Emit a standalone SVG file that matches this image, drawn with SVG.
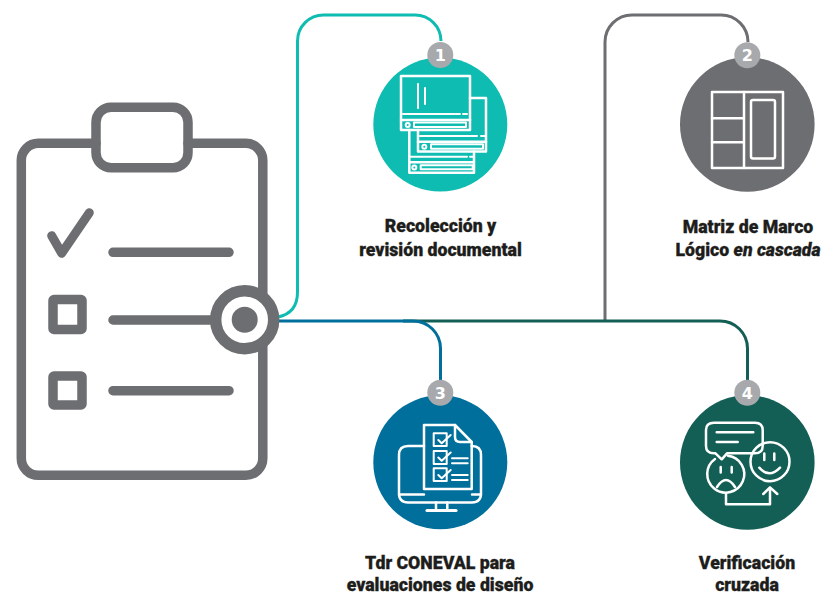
<svg xmlns="http://www.w3.org/2000/svg" width="824" height="595" viewBox="0 0 824 595">
<style>
.g{fill:none;stroke:#6d6e71;stroke-width:9.5;stroke-linecap:round;stroke-linejoin:round}
.w{fill:none;stroke:#fff;stroke-width:2.5;stroke-linecap:round;stroke-linejoin:round}
.f{stroke-width:2}
.c{fill:none;stroke-width:3}
.b{fill:#a7a9ac}
.n{font:700 16px "DejaVu Sans","Liberation Sans",sans-serif;fill:#fff;text-anchor:middle}
.t{font:900 17.700px "Roboto","Liberation Sans",sans-serif;fill:#1d1d1b;stroke:#1d1d1b;stroke-width:.3;text-anchor:middle}
</style>
<rect width="824" height="595" fill="#fff"/>
<g id="connectors">
<path class="c" stroke="#6d6e71" d="M605 320V42A27 27 0 0 1 632 15H721A27 27 0 0 1 748 42"/>
<path class="c" stroke="#0fbcb2" d="M278 317Q297.500 313 297.500 292V41A26 26 0 0 1 323.500 15H415A26 26 0 0 1 441 41"/>
<path class="c" stroke="#135e55" d="M403 321H720A27.500 27.500 0 0 1 747.500 348.500V385"/>
<path class="c" stroke="#006f9b" d="M278 321H413A27.500 27.500 0 0 1 440.500 348.500V385"/>
</g>
<g id="clipboard">
<path class="g" d="M96 143.300H38.300A17 17 0 0 0 21.300 160.300V458.300A17 17 0 0 0 38.300 475.300H245.800A17 17 0 0 0 262.800 458.300V160.300A17 17 0 0 0 245.800 143.300H188"/>
<rect class="g" x="96" y="107.300" width="92" height="60.400" rx="15"/>
<path class="g" style="stroke-width:9" d="M51.700 235.700L61.700 253.300L89.300 212.700"/>
<path class="g" d="M113 252.300H229M113 320H215M113 390.700H229"/>
<rect class="g" x="53" y="299.500" width="29" height="30" rx="1"/>
<rect class="g" x="53" y="376" width="29" height="29" rx="1"/>
<circle cx="244.700" cy="319.700" r="29" fill="#fff" stroke="#6d6e71" stroke-width="11.400"/>
<circle cx="244.700" cy="319.700" r="13" fill="#6d6e71"/>
</g>
<g id="node1">
<circle cx="440.300" cy="124.500" r="67" fill="#0fbcb2"/>
<circle class="b" cx="440.300" cy="55" r="13"/>
<text class="n" x="440.300" y="61">1</text>
<g class="w">
<rect x="401" y="76" width="69" height="54"/>
<path d="M401 120H470"/>
<path class="f" d="M403 114H460M463 114H467M418 84V108M425 88V104"/>
<circle class="f" cx="407.700" cy="125" r="2"/>
<rect class="f" x="414" y="122.500" width="52" height="4.500"/>
<path d="M470 98H486V151.500H418V130"/>
<path d="M418 141.700H486"/>
<path class="f" d="M420 136H477M481 136H485"/>
<circle class="f" cx="424.300" cy="146.700" r="2"/>
<rect class="f" x="431" y="144.300" width="52" height="4.500"/>
<path d="M409.300 130V172.700H474V151.500M409.300 162.300H474"/>
<path class="f" d="M409.300 156.700H467M470 156.700H474"/>
<circle class="f" cx="414.300" cy="167.500" r="2"/>
<rect class="f" x="420.700" y="165.300" width="52" height="4"/>
</g>
</g>
<g id="node2">
<circle cx="747.300" cy="124.500" r="67.300" fill="#6d6e71"/>
<circle class="b" cx="747.300" cy="55.300" r="13"/>
<text class="n" x="747.300" y="61">2</text>
<g class="w">
<rect x="712" y="92" width="71" height="76"/>
<path d="M712 118.300H744M712 142.300H744M744 92V168"/>
<rect x="751" y="100" width="24" height="58.500" rx="2"/>
</g>
</g>
<g id="node3">
<circle cx="440.300" cy="462.300" r="67" fill="#006f9b"/>
<circle class="b" cx="440.300" cy="392.700" r="13"/>
<text class="n" x="440.300" y="398.500">3</text>
<g class="w">
<path d="M424 446H408Q399 446 399 455V493Q399 502.500 408 502.500H472Q481 502.500 481 493V455Q481 446 472 446H471.700"/>
<path d="M399 494.500H424M472 494.500H481M436 502.500V510M447.300 502.500V510"/>
<path style="stroke-width:3.200" d="M427 510.500H456"/>
<path d="M424 425H455L471.700 442V489H424Z"/>
<path d="M455 425V437Q455 442 460 442H471.700"/>
<g class="f">
<rect x="433.700" y="433.300" width="13" height="12.700"/>
<rect x="433.700" y="451" width="13" height="13"/>
<rect x="433.700" y="468.300" width="13" height="12.700"/>
<path d="M438.300 440L441.700 443.300L450.700 435M438.300 457.500L441.700 460.800L450.700 452.500M438.300 475L441.700 478.300L450.700 470M452 458.300H467.700M452 463.300H467.700M452 475H467.700M452 480H467.700"/>
</g>
</g>
</g>
<g id="node4">
<circle cx="747.300" cy="462.500" r="67.300" fill="#135e55"/>
<circle class="b" cx="747.300" cy="392.700" r="13"/>
<text class="n" x="747.300" y="398.500">4</text>
<g class="w">
<path d="M714 422.700H755Q762.700 422.700 762.700 430V446Q762.700 453.300 755 453.300H727L721.700 459.300L715.500 453.300H714Q706 453.300 706 446V430Q706 422.700 714 422.700Z"/>
<path d="M716.700 432.300H753.300M716.700 442H737.700"/>
<path d="M715 459A18.500 18.500 0 1 0 728 455.700"/>
<circle cx="770" cy="461.700" r="19.500"/>
<path d="M720.700 467V472.500M731.700 467V472.500M717 487Q726 473 735 487M764.300 453.500V460M774.300 453.500V460M759.300 467.700Q769.300 479 780 467.700"/>
<path d="M726 494V504.300H770V488M763.300 494L770 487.300L777.300 494"/>
</g>
</g>
<g id="label1"><text class="t" x="440.500" y="231.500">Recolección y</text><text class="t" x="440.500" y="256">revisión documental</text></g>
<g id="label2"><text class="t" x="748" y="233">Matriz de Marco</text><text class="t" x="748" y="256">Lógico <tspan font-style="italic">en cascada</tspan></text></g>
<g id="label3"><text class="t" x="440" y="569">Tdr CONEVAL para</text><text class="t" x="440" y="591">evaluaciones de diseño</text></g>
<g id="label4"><text class="t" x="747" y="569">Verificación</text><text class="t" x="747" y="591">cruzada</text></g>
</svg>
